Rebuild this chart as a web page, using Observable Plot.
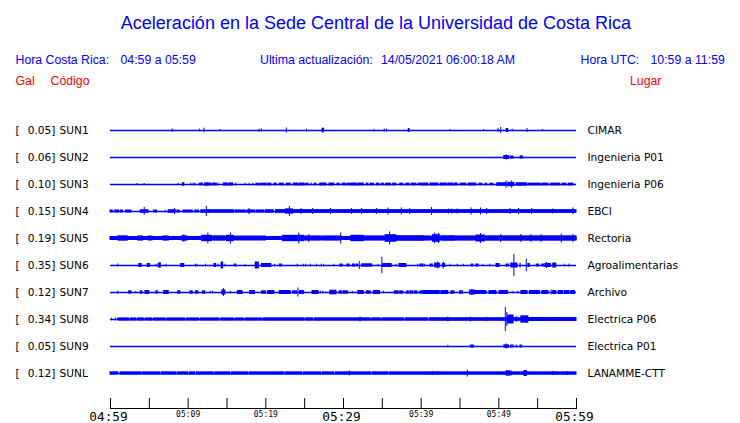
<!DOCTYPE html>
<html><head><meta charset="utf-8">
<script src="https://cdn.jsdelivr.net/npm/d3@7"></script>
<script src="https://cdn.jsdelivr.net/npm/@observablehq/plot@0.6"></script>
<style>
body{margin:0;background:#fff;width:740px;height:423px;overflow:hidden;position:relative;font-family:"Liberation Sans",Arial,sans-serif;}
#chart{position:absolute;left:0;top:0}
.h{position:absolute;white-space:pre;color:#0000ff;font-size:12.3px;line-height:1;}
.r{color:#ff0000}
</style></head><body>
<div id="chart"></div>
<div class="h" style="left:0;width:752px;text-align:center;top:14px;font-size:18px">Aceleración en la Sede Central de la Universidad de Costa Rica</div>
<div class="h" style="left:15.5px;top:54px">Hora Costa Rica:</div>
<div class="h" style="left:120.5px;top:54px">04:59 a 05:59</div>
<div class="h" style="left:260px;top:54px">Ultima actualización:</div>
<div class="h" style="left:381px;top:54px">14/05/2021 06:00:18 AM</div>
<div class="h" style="left:580.5px;top:54px">Hora UTC:</div>
<div class="h" style="left:650.5px;top:54px">10:59 a 11:59</div>
<div class="h r" style="left:15.5px;top:75px">Gal</div>
<div class="h r" style="left:50.5px;top:75px">Código</div>
<div class="h r" style="left:630px;top:75px">Lugar</div>
<script>
// Station codes, peak acceleration (Gal) and place names
const codes = ["SUN1","SUN2","SUN3","SUN4","SUN5","SUN6","SUN7","SUN8","SUN9","SUNL"];
const peaks = ["0.05","0.06","0.10","0.15","0.19","0.35","0.12","0.34","0.05","0.12"];
const places = ["CIMAR","Ingenieria P01","Ingenieria P06","EBCI","Rectoria","Agroalimentarias","Archivo","Electrica P06","Electrica P01","LANAMME-CTT"];

// Time ticks (minutes after 04:59)
const tickMinutes = [0,5,10,15,20,25,30,35,40,45,50,55,60];
const majorTicks = [0,30,60];
const majorLabels = ["04:59","05:29","05:59"];
const minorTicks = [10,20,40,50];
const minorLabels = ["05:09","05:19","05:39","05:49"];

// Trace activity: [start minute, end minute, half amplitude]
const sun1 = [[8.0,8.0,1.7],[11.5,11.5,1.5],[12.1,12.1,2.3],[14.2,14.2,1],[19.2,19.2,1.5],[19.5,19.5,1.5],[22.7,22.7,2.5],[25.3,25.3,1.3],[27.3,27.5,2.3],[34.0,34.0,1.2],[35.3,35.3,1.5],[35.6,35.6,1.5],[38.4,38.5,2],[43.8,43.8,1],[48.1,48.1,1],[49.9,50.0,1.5],[50.3,50.3,3],[51.0,51.2,2],[51.8,51.8,1.2],[53.7,53.7,2],[55.7,55.7,1]];
const sun2 = [[50.7,51.3,2],[51.0,51.0,2.7],[51.5,51.9,1.5],[52.8,53.1,1.6]];
const sun3 = [[3.5,3.5,1],[4.4,4.4,1],[8.8,8.8,1],[9.3,9.5,1.8],[10.4,10.4,1.3],[10.7,10.7,1.3],[10.9,10.9,1.3],[11.5,11.9,1.4],[12.2,12.6,1.7],[12.7,13.0,1.5],[13.2,13.7,1.4],[13.9,13.9,1.3],[14.6,15.1,1.6],[15.3,15.8,1.6],[16.2,16.2,1.5],[17.4,17.4,1.3],[17.9,17.9,1.3],[18.4,18.4,1.3],[18.8,19.1,1.3],[19.3,19.6,1.3],[19.7,20.1,1.4],[20.3,20.7,1.4],[21.1,21.4,1.4],[21.8,22.3,1.4],[22.7,23.2,1.4],[23.6,24.2,1.5],[24.4,25.0,1.5],[25.2,25.5,1.3],[25.9,25.9,1.3],[26.3,26.5,1.4],[27.0,27.8,1.5],[28.2,28.8,1.5],[29.2,29.5,1.3],[29.9,30.3,1.4],[30.5,30.9,1.3],[31.0,31.7,1.5],[31.9,32.6,1.5],[33.0,33.2,1.4],[33.5,33.9,1.4],[34.3,34.6,1.4],[34.9,35.2,1.3],[35.5,36.1,1.4],[36.4,36.8,1.4],[37.3,37.7,1.4],[38.1,38.5,1.4],[38.8,39.4,1.4],[39.7,40.3,1.4],[40.4,40.9,1.5],[41.2,42.2,1.5],[42.5,43.3,1.5],[43.5,44.1,1.5],[44.3,44.7,1.5],[45.1,45.8,1.4],[46.1,47.1,1.5],[47.5,47.9,1.3],[48.3,48.5,1.3],[48.9,49.3,1.3],[49.8,51.0,1.8],[51.0,51.0,3.8],[51.2,52.0,2.2],[51.7,51.7,3.5],[52.3,53.6,1.8],[53.8,55.4,1.4],[55.6,56.4,1.4],[56.7,57.9,1.4],[58.2,58.7,1.4],[59.0,59.6,1.4]];
const sun4 = [[0.0,0.3,1.5],[0.6,1.1,1.5],[1.3,1.6,1.5],[2.0,2.7,1.5],[3.9,4.9,1.8],[4.4,4.4,4],[5.6,6.0,1.5],[7.1,7.1,1.3],[7.5,8.4,1.8],[8.3,8.3,3],[8.6,8.9,1.5],[9.4,10.6,1.5],[10.9,11.4,1.5],[11.7,12.7,1.8],[12.4,12.4,5],[12.7,15.9,1.8],[16.1,17.4,1.6],[17.6,18.6,1.6],[17.9,17.9,3],[18.8,19.8,1.6],[20.0,21.0,1.8],[21.3,60,1.9],[22.6,23.5,2.6],[23.1,23.1,5],[24.6,24.6,3],[26.1,26.1,3],[28.4,28.4,3],[31.1,31.1,3],[32.4,32.4,3],[34.3,34.3,3],[35.8,35.8,3.5],[37.5,37.5,3.5],[38.6,38.6,3],[41.4,41.4,4],[43.6,43.6,2.5],[44.0,44.0,2.5],[44.7,44.7,2.5],[46.5,46.5,3.5],[47.7,47.7,3.5],[48.5,48.5,3],[51.5,51.5,3],[52.6,52.6,3],[54.3,54.3,3],[57.0,57.0,2.5],[59.6,59.6,3.5]];
const sun5 = [[0,60,2],[1.0,2.2,2.7],[3.6,4.2,2.6],[4.9,5.4,2.5],[6.8,7.5,2.6],[9.2,9.9,2.7],[9.5,9.5,4],[11.8,13.1,3.2],[12.6,12.6,5.5],[13.3,14.8,2.7],[15.0,15.9,3.2],[15.5,15.5,5.5],[16.1,20.0,2.5],[22.2,24.9,3.2],[24.3,24.3,5.5],[24.9,27.2,2.6],[25.6,25.6,4],[27.4,29.6,2.6],[29.7,29.7,5.5],[31.0,32.6,3.2],[32.6,35.2,2.6],[35.4,36.8,3.8],[36.0,36.0,6.5],[36.8,40.3,2.8],[40.0,41.3,2.6],[41.5,42.4,3.8],[41.8,41.8,5.5],[42.3,42.3,5],[42.6,44.3,2.8],[44.3,46.9,2.6],[47.1,48.2,3.5],[47.7,47.7,5],[48.2,60,2.7],[50.3,50.3,4],[52.9,52.9,4],[54.2,54.2,4],[55.5,55.5,4],[58.1,58.1,4.5],[59.6,59.6,4]];
const sun6 = [[1.0,1.0,1.5],[3.7,4.0,2],[4.8,5.1,2],[5.9,5.9,1.3],[6.2,6.5,2.3],[6.4,6.4,3],[7.2,7.2,1.3],[9.1,9.5,2],[11.0,11.0,1.3],[11.2,11.2,1.3],[12.3,12.3,1.3],[13.4,13.6,2],[13.9,13.9,1.3],[14.3,14.5,3.5],[14.8,14.8,1.3],[16.0,16.2,1.5],[17.4,17.4,1.3],[18.7,19.1,3.5],[19.5,19.9,2],[19.9,20.7,2],[21.2,21.2,1.3],[21.8,22.1,1.5],[24.1,24.1,1.3],[24.9,24.9,1.3],[25.2,25.2,1.3],[25.8,25.8,1.3],[26.6,26.6,1.3],[27.2,27.2,1.3],[27.5,27.5,1.3],[28.8,28.8,1.3],[29.6,29.9,1.5],[30.5,30.8,1.5],[31.2,31.5,1.5],[31.7,31.9,1.5],[32.1,32.1,4],[32.4,33.7,1.7],[34.5,34.5,1.3],[35.0,35.0,8.3],[35.1,36.2,2],[36.8,36.8,1.3],[37.2,38.1,2],[39.6,39.6,1.3],[39.9,40.3,1.5],[40.5,40.5,1.3],[41.2,41.5,1.5],[41.8,42.4,2.5],[42.2,42.2,3.5],[42.8,43.1,2],[42.9,42.9,3.5],[43.8,43.8,1.3],[44.7,44.7,1.3],[45.5,45.5,1.3],[46.5,46.7,1.5],[47.1,47.4,1.5],[48.0,48.0,1.3],[48.9,48.9,1.3],[49.7,50.1,2],[51.0,51.3,1.5],[51.6,52.4,2.5],[52.0,52.0,10.8],[52.8,52.8,2.5],[53.6,53.6,6.3],[53.8,54.0,2],[54.9,55.2,1.5],[55.6,55.9,1.5],[56.0,56.7,2],[56.2,56.2,3],[57.0,57.4,2.5],[58.5,58.5,1.3],[59.1,59.1,1.5]];
const sun7 = [[1.0,1.0,1.5],[2.4,2.7,1.7],[3.3,3.3,1],[3.9,4.1,1.7],[4.5,5.0,2],[5.9,6.1,1.7],[6.9,7.5,2],[8.7,9.0,1.7],[10.3,10.6,1.7],[11.0,11.3,1.7],[11.9,12.2,1.7],[12.9,12.9,1.3],[13.2,13.2,1.3],[14.4,14.8,2.5],[14.6,14.6,4],[15.5,15.5,1.3],[16.4,17.0,2],[18.0,18.6,2],[19.5,20.0,1.7],[20.3,21.1,2],[21.8,23.2,2],[23.5,24.0,1.7],[24.2,24.2,4.5],[24.4,24.9,2],[26.0,26.8,2],[27.1,27.1,1.3],[27.4,27.4,1.3],[28.3,29.1,2.3],[29.5,29.8,1.7],[30.0,30.6,1.7],[31.2,31.2,1.3],[31.9,32.6,2],[33.0,33.5,1.7],[33.9,34.7,2],[35.2,35.2,1.3],[36.6,37.1,1.7],[37.3,37.7,1.7],[38.2,38.4,1.7],[38.6,39.0,1.7],[39.2,39.5,1.7],[39.9,40.3,1.7],[40.3,40.9,2],[41.0,42.4,2],[42.6,43.5,2],[43.9,44.3,1.7],[45.0,45.4,1.7],[46.3,46.9,2.5],[46.6,46.6,3],[46.9,48.4,2],[48.8,49.7,2],[50.1,51.2,2],[51.9,51.9,1.3],[52.5,52.5,1.3],[52.9,53.7,2],[54.0,55.3,2],[55.6,56.4,2],[56.8,56.8,2.5],[57.0,57.4,2],[57.7,58.3,2],[58.5,59.1,2],[59.3,59.8,2]];
const sun8 = [[0.2,0.2,1.3],[0.7,0.7,1.5],[1.0,1.0,1.3],[1.1,2.4,1.6],[2.6,3.3,1.6],[3.5,4.3,1.6],[4.5,5.4,1.6],[5.6,7.1,1.6],[7.3,9.6,1.6],[9.8,11.4,1.6],[11.6,14.0,1.6],[14.2,15.9,1.6],[16.1,17.2,1.6],[17.4,19.5,1.6],[19.7,25.0,1.7],[25.2,26.1,1.7],[26.3,33.5,1.7],[33.7,34.8,1.7],[35.0,37.8,1.7],[38.0,40.9,1.7],[41.1,53.8,1.8],[32.2,32.2,2.5],[43.5,43.5,2.5],[46.4,46.4,2.5],[48.5,48.5,2.2],[50.9,50.9,12],[51.1,51.1,7],[51.2,51.9,4.5],[52.3,52.3,3],[52.9,53.8,3.7],[53.8,60,2]];
const sun9 = [[43.5,43.5,1.3],[46.4,46.8,1.5],[50.7,51.3,1.7],[51.0,51.0,2.5],[51.6,51.9,1.5],[52.3,52.3,1.5],[52.8,53.0,1.5]];
const sunL = [[0,1.0,1.7],[1.3,4.0,1.7],[4.2,6.4,1.7],[6.6,8.5,1.7],[8.7,10.0,1.7],[10.2,10.9,1.7],[11.1,13.3,1.7],[13.5,15.4,1.7],[15.6,17.7,1.7],[17.9,22.4,1.7],[22.6,24.7,1.7],[24.9,27.1,1.7],[27.3,28.8,1.7],[29.0,33.6,1.7],[33.8,35.8,1.7],[36.0,60,1.7],[30.8,30.8,2.5],[41.5,41.5,2],[46.0,46.0,3.5],[51.0,51.5,2.7],[51.7,51.7,2.3],[53.3,53.6,3],[57.0,57.0,2],[58.9,58.9,2]];

const traces = [sun1,sun2,sun3,sun4,sun5,sun6,sun7,sun8,sun9,sunL];

const BLUE = "#0000ff";
const ROW = 27; // amplitude units between trace baselines
const rows = codes.map((code, i) => ({i, code, peak: peaks[i], place: places[i]}));
const events = traces.flatMap((ev, i) => ev.map(([t0, t1, a]) => ({i, t0, t1, a})));
const labelFont = "DejaVu Sans";
const monoFont = "DejaVu Sans Mono";
const LF = 10.6;

const chart = Plot.plot({
  width: 740, height: 423,
  marginLeft: 110, marginRight: 164, marginTop: 117, marginBottom: 15,
  x: {domain: [0, 60], axis: null},
  y: {domain: [-13, 278], reverse: true, axis: null},
  style: {background: "transparent", overflow: "visible"},
  marks: [
    Plot.ruleY(rows, {y: d => d.i * ROW, stroke: BLUE, strokeWidth: 1.4}),
    Plot.rect(events, {x1: "t0", x2: "t1", y1: d => d.i * ROW - d.a, y2: d => d.i * ROW + d.a, fill: BLUE, insetLeft: -0.5, insetRight: -0.5}),
    Plot.text(rows, {y: d => d.i * ROW, text: () => "[", frameAnchor: "left", dx: -95, textAnchor: "start", fontSize: LF, fontFamily: labelFont, fill: "black"}),
    Plot.text(rows, {y: d => d.i * ROW, text: d => d.peak + "]", frameAnchor: "left", dx: -55, textAnchor: "end", fontSize: LF, fontFamily: labelFont, fill: "black"}),
    Plot.text(rows, {y: d => d.i * ROW, text: "code", frameAnchor: "left", dx: -51, textAnchor: "start", fontSize: LF, fontFamily: labelFont, fill: "black"}),
    Plot.text(rows, {y: d => d.i * ROW, text: "place", frameAnchor: "right", dx: 11, textAnchor: "start", fontSize: LF, fontFamily: labelFont, fill: "black"}),
    Plot.frame({anchor: "bottom", stroke: "black"}),
    Plot.ruleX(tickMinutes, {x: d => d, insetTop: 281, stroke: "black"}),
    Plot.text(majorTicks, {x: d => d, text: (d, i) => majorLabels[i], frameAnchor: "bottom", lineAnchor: "top", dy: 3.5, dx: -2, fontSize: 12.8, fontFamily: monoFont, fill: "black"}),
    Plot.text(minorTicks, {x: d => d, text: (d, i) => minorLabels[i], frameAnchor: "bottom", lineAnchor: "top", dy: 2.5, fontSize: 8, fontFamily: monoFont, fill: "black"})
  ]
});
document.getElementById("chart").appendChild(chart);
</script>
</body></html>
